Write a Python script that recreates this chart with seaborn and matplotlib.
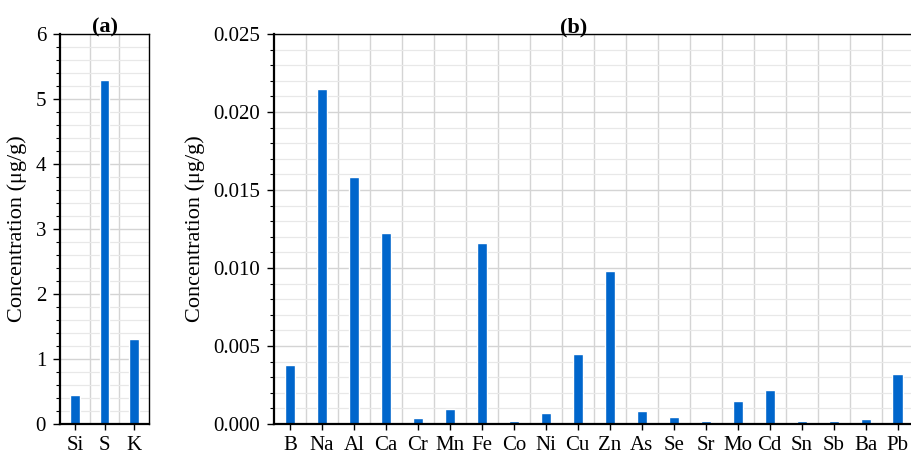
import numpy as np
import pandas as pd
import matplotlib
matplotlib.use("Agg")
import matplotlib.pyplot as plt
import seaborn as sns
from matplotlib.ticker import MultipleLocator, FixedLocator

# données
major_elements = ["Si", "S", "K"]
major_values = [0.44, 5.29, 1.30]

trace_elements = ["B", "Na", "Al", "Ca", "Cr", "Mn", "Fe", "Co", "Ni", "Cu",
                  "Zn", "As", "Se", "Sr", "Mo", "Cd", "Sn", "Sb", "Ba", "Pb"]
trace_values = [0.00375, 0.0215, 0.01583, 0.01222, 0.00038, 0.00096, 0.01158,
                0.0002, 0.00068, 0.00447, 0.00983, 0.00085, 0.00045, 0.0002,
                0.00145, 0.0022, 0.0002, 0.0002, 0.0003, 0.0032]

sns.set_style("white")
plt.rcParams['font.family'] = ['Liberation Serif', 'DejaVu Serif']
plt.rcParams.update({'text.color': 'black', 'axes.labelcolor': 'black',
                     'xtick.color': 'black', 'ytick.color': 'black'})

bar_color = "#0066CC"

fig = plt.figure(figsize=(9.12, 4.54), dpi=100)
ax_a = fig.add_axes([0.0658, 0.0661, 0.0976, 0.859])
ax_b = fig.add_axes([0.3004, 0.0661, 0.6996, 0.859])


def style_axis(ax, n, ymax, major, minor, title, fmt, xright=None, title_x=0.5):
    ax.set_axisbelow(True)
    ax.set_xlim(-0.5, n - 0.5 if xright is None else xright)
    ax.set_ylim(0, ymax)
    ax.yaxis.set_major_locator(MultipleLocator(major))
    ax.yaxis.set_minor_locator(MultipleLocator(minor))
    ax.yaxis.set_major_formatter(plt.FormatStrFormatter(fmt))
    ax.xaxis.set_minor_locator(FixedLocator(np.arange(0.5, n - 0.5, 1)))
    ax.grid(True, axis='y', which='major', color='#d4d4d4', lw=1.0)
    ax.grid(True, axis='y', which='minor', color='#e8e8e8', lw=0.9)
    ax.grid(True, axis='x', which='minor', color='#d4d4d4', lw=1.0)
    ax.grid(False, axis='x', which='major')
    ax.tick_params(axis='x', which='major', direction='out', length=4, width=1,
                   labelsize=15, pad=5, bottom=True, color='black', labelcolor='black')
    ax.tick_params(axis='x', which='minor', length=0)
    ax.tick_params(axis='y', which='major', direction='out', length=5, width=1,
                   labelsize=15, pad=5, left=True, color='black', labelcolor='black')
    ax.tick_params(axis='y', which='minor', direction='out', length=3, width=0.8,
                   left=True, color='black')
    for side in ['left', 'bottom']:
        ax.spines[side].set_linewidth(1.6)
        ax.spines[side].set_color('black')
    for side in ['top', 'right']:
        ax.spines[side].set_linewidth(1.0)
        ax.spines[side].set_color('black')
    ax.set_xlabel("")
    ax.set_ylabel("Concentration (μg/g)", fontsize=16, labelpad=6, color='black')
    ax.set_title(title, fontsize=16, fontweight='bold', pad=1, x=title_x,
                 color='black')


df_a = pd.DataFrame({"Element": major_elements, "Conc": major_values})
sns.barplot(data=df_a, x="Element", y="Conc", color=bar_color, width=0.32,
            saturation=1, ax=ax_a)
style_axis(ax_a, len(major_elements), 6, 1, 0.2, "(a)", "%d")

df_b = pd.DataFrame({"Element": trace_elements, "Conc": trace_values})
sns.barplot(data=df_b, x="Element", y="Conc", color=bar_color, width=0.32,
            saturation=1, ax=ax_b)
style_axis(ax_b, len(trace_elements), 0.025, 0.005, 0.001, "(b)", "%.3f",
           xright=19.45, title_x=0.47)
ax_b.spines['right'].set_visible(False)

fig.savefig("out.png", dpi=100)
